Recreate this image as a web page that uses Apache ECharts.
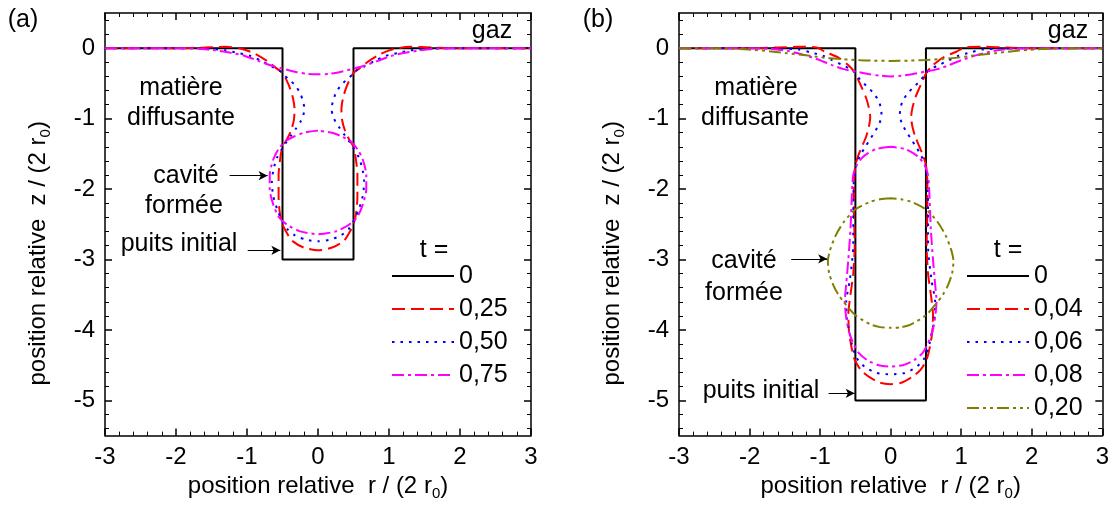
<!DOCTYPE html>
<html lang="fr">
<head>
<meta charset="UTF-8">
<title>puits initial / cavité formée</title>
<script src="https://cdn.jsdelivr.net/npm/echarts@6/dist/echarts.min.js"></script>
<style>
  html, body { margin: 0; padding: 0; background: #fff; }
  #chart { width: 1112px; height: 506px; }
</style>
</head>
<body>
<div id="chart"></div>
<script>
// profils (r, z) en unités de 2 r0
// ---- (a) ----
var wellA = [[-3,0],[-0.5,0],[-0.5,-3],[0.5,-3],[0.5,0],[3,0]];
var profA025 = [[-3,0],[-2,0],[-1.6,0.01],[-1.3,0.02],[-1.07,-0.01],[-0.885,-0.08],[-0.72,-0.18],[-0.58,-0.29],[-0.5,-0.35],
  [-0.44,-0.46],[-0.39,-0.58],[-0.35,-0.72],[-0.33,-0.87],[-0.34,-1.02],[-0.38,-1.17],[-0.44,-1.3],[-0.5,-1.4],
  [-0.53,-1.55],[-0.555,-1.8],[-0.555,-2.1],[-0.54,-2.32],[-0.5,-2.5],[-0.44,-2.62],[-0.37,-2.73],[-0.2,-2.83],[0,-2.87],
  [0.2,-2.83],[0.37,-2.73],[0.44,-2.62],[0.5,-2.5],[0.54,-2.32],[0.555,-2.1],[0.555,-1.8],[0.53,-1.55],
  [0.5,-1.4],[0.44,-1.3],[0.38,-1.17],[0.34,-1.02],[0.33,-0.87],[0.35,-0.72],[0.39,-0.58],[0.44,-0.46],
  [0.5,-0.35],[0.58,-0.29],[0.72,-0.18],[0.885,-0.08],[1.07,-0.01],[1.3,0.02],[1.6,0.01],[2,0],[3,0]];
var profA050 = [[-3,0],[-2,0],[-1.6,-0.005],[-1.3,-0.03],[-1.12,-0.07],[-0.95,-0.11],[-0.8,-0.18],[-0.65,-0.26],[-0.55,-0.31],[-0.48,-0.38],
  [-0.4,-0.45],[-0.32,-0.53],[-0.25,-0.64],[-0.21,-0.76],[-0.19,-0.86],[-0.21,-0.96],[-0.25,-1.05],[-0.31,-1.14],[-0.38,-1.24],[-0.45,-1.34],[-0.5,-1.42],
  [-0.58,-1.56],[-0.63,-1.74],[-0.65,-1.9],[-0.63,-2.1],[-0.57,-2.3],[-0.5,-2.46],[-0.43,-2.57],[-0.32,-2.66],[-0.16,-2.72],[0,-2.74],
  [0.16,-2.72],[0.32,-2.66],[0.43,-2.57],[0.5,-2.46],[0.57,-2.3],[0.63,-2.1],[0.65,-1.9],[0.63,-1.74],[0.58,-1.56],
  [0.5,-1.42],[0.45,-1.34],[0.38,-1.24],[0.31,-1.14],[0.25,-1.05],[0.21,-0.96],[0.19,-0.86],[0.21,-0.76],[0.25,-0.64],[0.32,-0.53],[0.4,-0.45],
  [0.48,-0.38],[0.55,-0.31],[0.65,-0.26],[0.8,-0.18],[0.95,-0.11],[1.12,-0.07],[1.3,-0.03],[1.6,-0.005],[2,0],[3,0]];
var surfA075 = [[-3,0],[-2,0],[-1.7,-0.005],[-1.45,-0.03],[-1.25,-0.06],[-1.03,-0.11],[-0.84,-0.18],[-0.65,-0.25],[-0.5,-0.29],[-0.3,-0.34],[-0.15,-0.365],[0,-0.37],
  [0.15,-0.365],[0.3,-0.34],[0.5,-0.29],[0.65,-0.25],[0.84,-0.18],[1.03,-0.11],[1.25,-0.06],[1.45,-0.03],[1.7,-0.005],[2,0],[3,0]];
var bubbleA075 = [[0,-1.17],[-0.2,-1.2],[-0.35,-1.26],[-0.46,-1.32],[-0.56,-1.44],[-0.63,-1.58],[-0.68,-1.8],[-0.68,-2.0],[-0.63,-2.22],[-0.55,-2.4],[-0.43,-2.51],[-0.25,-2.6],[0,-2.64],
  [0.25,-2.6],[0.43,-2.51],[0.55,-2.4],[0.63,-2.22],[0.68,-2.0],[0.68,-1.8],[0.63,-1.58],[0.56,-1.44],[0.46,-1.32],[0.35,-1.26],[0.2,-1.2],[0,-1.17]];

// ---- (b) ----
var wellB = [[-3,0],[-0.5,0],[-0.5,-5],[0.5,-5],[0.5,0],[3,0]];
var profB004 = [[-3,0],[-2,0],[-1.6,0.01],[-1.3,0.02],[-1.05,0.01],[-0.93,-0.05],[-0.73,-0.14],[-0.58,-0.26],[-0.5,-0.36],
  [-0.45,-0.47],[-0.4,-0.58],[-0.35,-0.7],[-0.31,-0.84],[-0.29,-0.98],[-0.31,-1.12],[-0.35,-1.26],[-0.4,-1.38],[-0.45,-1.5],[-0.5,-1.66],
  [-0.52,-1.9],[-0.52,-2.3],[-0.51,-2.8],[-0.53,-3.2],[-0.57,-3.5],[-0.6,-3.78],[-0.59,-4.02],[-0.56,-4.22],[-0.51,-4.42],[-0.42,-4.57],[-0.3,-4.67],[-0.15,-4.75],[0,-4.77],
  [0.15,-4.75],[0.3,-4.67],[0.42,-4.57],[0.51,-4.42],[0.56,-4.22],[0.59,-4.02],[0.6,-3.78],[0.57,-3.5],[0.53,-3.2],[0.51,-2.8],[0.52,-2.3],[0.52,-1.9],
  [0.5,-1.66],[0.45,-1.5],[0.4,-1.38],[0.35,-1.26],[0.31,-1.12],[0.29,-0.98],[0.31,-0.84],[0.35,-0.7],[0.4,-0.58],[0.45,-0.47],
  [0.5,-0.36],[0.58,-0.26],[0.73,-0.14],[0.93,-0.05],[1.05,0.01],[1.3,0.02],[1.6,0.01],[2,0],[3,0]];
var profB006 = [[-3,0],[-2,0],[-1.6,-0.005],[-1.3,-0.02],[-1.13,-0.06],[-0.95,-0.11],[-0.83,-0.17],[-0.7,-0.23],[-0.58,-0.29],[-0.5,-0.35],
  [-0.43,-0.45],[-0.34,-0.54],[-0.25,-0.63],[-0.18,-0.73],[-0.14,-0.84],[-0.13,-0.95],[-0.16,-1.07],[-0.22,-1.18],[-0.29,-1.29],[-0.36,-1.4],[-0.43,-1.52],[-0.49,-1.66],
  [-0.52,-1.85],[-0.53,-2.2],[-0.53,-2.8],[-0.58,-3.3],[-0.63,-3.6],[-0.62,-3.85],[-0.58,-4.05],[-0.55,-4.2],[-0.48,-4.4],[-0.36,-4.53],[-0.2,-4.61],[0,-4.63],
  [0.2,-4.61],[0.36,-4.53],[0.48,-4.4],[0.55,-4.2],[0.58,-4.05],[0.62,-3.85],[0.63,-3.6],[0.58,-3.3],[0.53,-2.8],[0.53,-2.2],[0.52,-1.85],
  [0.49,-1.66],[0.43,-1.52],[0.36,-1.4],[0.29,-1.29],[0.22,-1.18],[0.16,-1.07],[0.13,-0.95],[0.14,-0.84],[0.18,-0.73],[0.25,-0.63],[0.34,-0.54],[0.43,-0.45],
  [0.5,-0.35],[0.58,-0.29],[0.7,-0.23],[0.83,-0.17],[0.95,-0.11],[1.13,-0.06],[1.3,-0.02],[1.6,-0.005],[2,0],[3,0]];
var surfB008 = [[-3,0],[-2,0],[-1.7,-0.01],[-1.45,-0.04],[-1.23,-0.095],[-1.0,-0.17],[-0.83,-0.24],[-0.65,-0.3],[-0.5,-0.33],[-0.3,-0.37],[-0.15,-0.39],[0,-0.4],
  [0.15,-0.39],[0.3,-0.37],[0.5,-0.33],[0.65,-0.3],[0.83,-0.24],[1.0,-0.17],[1.23,-0.095],[1.45,-0.04],[1.7,-0.01],[2,0],[3,0]];
var bubbleB008 = [[0,-1.4],[-0.2,-1.43],[-0.32,-1.49],[-0.41,-1.56],[-0.48,-1.66],[-0.53,-1.8],[-0.55,-2.1],[-0.57,-2.58],[-0.6,-3.0],[-0.63,-3.35],[-0.65,-3.6],[-0.63,-3.82],[-0.59,-4.03],[-0.52,-4.21],[-0.45,-4.33],[-0.33,-4.43],[-0.17,-4.5],[0,-4.52],
  [0.17,-4.5],[0.33,-4.43],[0.45,-4.33],[0.52,-4.21],[0.59,-4.03],[0.63,-3.82],[0.65,-3.6],[0.63,-3.35],[0.6,-3.0],[0.57,-2.58],[0.55,-2.1],[0.53,-1.8],[0.48,-1.66],[0.41,-1.56],[0.32,-1.49],[0.2,-1.43],[0,-1.4]];
var surfB020 = [[-3,0],[-2.5,0],[-2.2,-0.008],[-1.94,-0.024],[-1.7,-0.045],[-1.48,-0.07],[-1.2,-0.1],[-0.98,-0.13],[-0.75,-0.15],[-0.5,-0.167],[-0.25,-0.177],[0,-0.18],
  [0.25,-0.177],[0.5,-0.167],[0.75,-0.15],[0.98,-0.13],[1.2,-0.1],[1.48,-0.07],[1.7,-0.045],[1.94,-0.024],[2.2,-0.008],[2.5,0],[3,0]];
var bubbleB020 = [[0,-2.13],[-0.15,-2.145],[-0.29,-2.18],[-0.5,-2.29],[-0.66,-2.46],[-0.78,-2.66],[-0.86,-2.87],[-0.89,-3.02],[-0.87,-3.2],[-0.81,-3.37],[-0.74,-3.5],[-0.66,-3.61],[-0.5,-3.79],[-0.29,-3.92],[-0.15,-3.96],[0,-3.97],
  [0.15,-3.96],[0.29,-3.92],[0.5,-3.79],[0.66,-3.61],[0.74,-3.5],[0.81,-3.37],[0.87,-3.2],[0.89,-3.02],[0.86,-2.87],[0.78,-2.66],[0.66,-2.46],[0.5,-2.29],[0.29,-2.18],[0.15,-2.145],[0,-2.13]];

var legendA = ['0', '0,25', '0,50', '0,75'];
var legendB = ['0', '0,04', '0,06', '0,08', '0,20'];
var yMajorTicks = [-5, -4, -3, -2, -1, 0];
var yMinorTicks = [-5.4,-5.2,-4.8,-4.6,-4.4,-4.2,-3.8,-3.6,-3.4,-3.2,-2.8,-2.6,-2.4,-2.2,-1.8,-1.6,-1.4,-1.2,-0.8,-0.6,-0.4,-0.2,0.2,0.4];

var FONT = '"Liberation Sans", Arial, sans-serif';
var RED = '#ff0000', BLUE = '#0000ff', PINK = '#ff00ff', OLIVE = '#808000';
var DASH = [13, 6], DOT = [2.5, 6], DASHDOT = [12, 4, 3, 4], DASHDOTDOT = [12, 4, 3, 4, 3, 4];

var myChart = echarts.init(document.getElementById('chart'));

function xAxes(gi) {
    var common = {
        type: 'value', gridIndex: gi, min: -3, max: 3, interval: 1,
        axisLine: { onZero: false, lineStyle: { color: '#000', width: 1.5 } },
        axisTick: { inside: true, length: 7, lineStyle: { color: '#000', width: 1.5 } },
        minorTick: { show: true, splitNumber: 5, length: 4, lineStyle: { color: '#000', width: 1 } },
        splitLine: { show: false }
    };
    var bottom = Object.assign({}, common, {
        position: 'bottom',
        axisLabel: { fontSize: 24, fontFamily: FONT, color: '#000', margin: 10 },
        name: 'position relative  r / (2 r{s|0})',
        nameLocation: 'middle', nameGap: 33,
        nameTextStyle: { fontSize: 24, fontFamily: FONT, color: '#000',
            rich: { s: { fontSize: 15, fontFamily: FONT, color: '#000', padding: [14, 0, 0, 0] } } }
    });
    var top = Object.assign({}, common, { position: 'top', axisLabel: { show: false } });
    return [bottom, top];
}

function yAxes(gi) {
    var base = { type: 'value', gridIndex: gi, min: -5.5, max: 0.5, splitLine: { show: false } };
    var leftMajor = Object.assign({}, base, {
        position: 'left',
        axisLine: { onZero: false, lineStyle: { color: '#000', width: 1.5 } },
        axisTick: { inside: true, length: 7, customValues: yMajorTicks, lineStyle: { color: '#000', width: 1.5 } },
        axisLabel: { customValues: yMajorTicks, fontSize: 24, fontFamily: FONT, color: '#000', margin: 10 },
        name: 'position relative  z / (2 r{s|0})',
        nameLocation: 'middle', nameRotate: 90, nameGap: 52,
        nameTextStyle: { fontSize: 24, fontFamily: FONT, color: '#000', padding: [0, 58, 0, 0],
            rich: { s: { fontSize: 15, fontFamily: FONT, color: '#000', padding: [14, 0, 0, 0] } } }
    });
    var leftMinor = Object.assign({}, base, {
        position: 'left', axisLine: { show: false, onZero: false }, axisLabel: { show: false },
        axisTick: { inside: true, length: 4, customValues: yMinorTicks, lineStyle: { color: '#000', width: 1 } }
    });
    var rightMajor = Object.assign({}, base, {
        position: 'right', axisLabel: { show: false },
        axisLine: { onZero: false, lineStyle: { color: '#000', width: 1.5 } },
        axisTick: { inside: true, length: 7, customValues: yMajorTicks, lineStyle: { color: '#000', width: 1.5 } }
    });
    var rightMinor = Object.assign({}, leftMinor, { position: 'right' });
    return [leftMajor, leftMinor, rightMajor, rightMinor];
}

function line(name, data, color, dash, panel) {
    return {
        name: name, type: 'line', data: data,
        xAxisIndex: panel * 2, yAxisIndex: panel * 4,
        symbol: 'none', smooth: dash ? 0.25 : false,
        lineStyle: { color: color, width: 2, type: dash || 'solid' },
        itemStyle: { color: color },
        animation: false, silent: true
    };
}

function arrows(list) {
    return {
        silent: true, symbol: ['none', 'arrow'], symbolSize: [7, 9],
        label: { show: false },
        lineStyle: { color: '#000', width: 1, type: 'solid' },
        data: list.map(function (a) { return [{ coord: a[0] }, { coord: a[1] }]; })
    };
}

var wellSeriesA = line('0', wellA, '#000', null, 0);
wellSeriesA.markLine = arrows([[[-1.245, -1.81], [-0.71, -1.81]], [[-0.99, -2.87], [-0.53, -2.87]]]);
var wellSeriesB = line('0', wellB, '#000', null, 1);
wellSeriesB.markLine = arrows([[[-1.41, -2.99], [-0.9, -2.99]], [[-0.88, -4.9], [-0.51, -4.9]]]);

function txt(s, x, y) {
    return { type: 'text', x: x, y: y, silent: true,
        style: { text: s, font: '25px ' + FONT, fill: '#000', align: 'center', verticalAlign: 'middle' } };
}

var legendCommon = {
    orient: 'vertical', itemWidth: 62, itemHeight: 14, itemGap: 8,
    itemStyle: { opacity: 0 },
    textStyle: { fontSize: 25, fontFamily: FONT, color: '#000', lineHeight: 21 },
    selectedMode: false, padding: 0
};

var option = {
    backgroundColor: '#fff',
    animation: false,
    grid: [
        { left: 105, top: 13, width: 426, height: 423 },
        { left: 679, top: 13, width: 424, height: 423 }
    ],
    xAxis: xAxes(0).concat(xAxes(1)),
    yAxis: yAxes(0).concat(yAxes(1)),
    legend: [
        Object.assign({}, legendCommon, { data: legendA, left: 391, top: 263.5 }),
        Object.assign({}, legendCommon, { data: legendB, left: 966, top: 263.5 })
    ],
    graphic: [
        txt('(a)', 23, 20), txt('gaz', 492, 31),
        txt('matière', 181, 88), txt('diffusante', 181, 118),
        txt('cavité', 186, 176), txt('formée', 184, 206),
        txt('puits initial', 179, 244), txt('t =', 434, 250),
        txt('(b)', 598, 20), txt('gaz', 1068, 31),
        txt('matière', 756, 88), txt('diffusante', 755, 118),
        txt('cavité', 744, 261), txt('formée', 744, 293),
        txt('puits initial', 761, 391), txt('t =', 1008, 250)
    ],
    series: [
        wellSeriesA,
        line('0,25', profA025, RED, DASH, 0),
        line('0,50', profA050, BLUE, DOT, 0),
        line('0,75', surfA075, PINK, DASHDOT, 0),
        line('0,75', bubbleA075, PINK, DASHDOT, 0),
        wellSeriesB,
        line('0,04', profB004, RED, DASH, 1),
        line('0,06', profB006, BLUE, DOT, 1),
        line('0,08', surfB008, PINK, DASHDOT, 1),
        line('0,08', bubbleB008, PINK, DASHDOT, 1),
        line('0,20', surfB020, OLIVE, DASHDOTDOT, 1),
        line('0,20', bubbleB020, OLIVE, DASHDOTDOT, 1)
    ]
};
myChart.setOption(option);
</script>
</body>
</html>
